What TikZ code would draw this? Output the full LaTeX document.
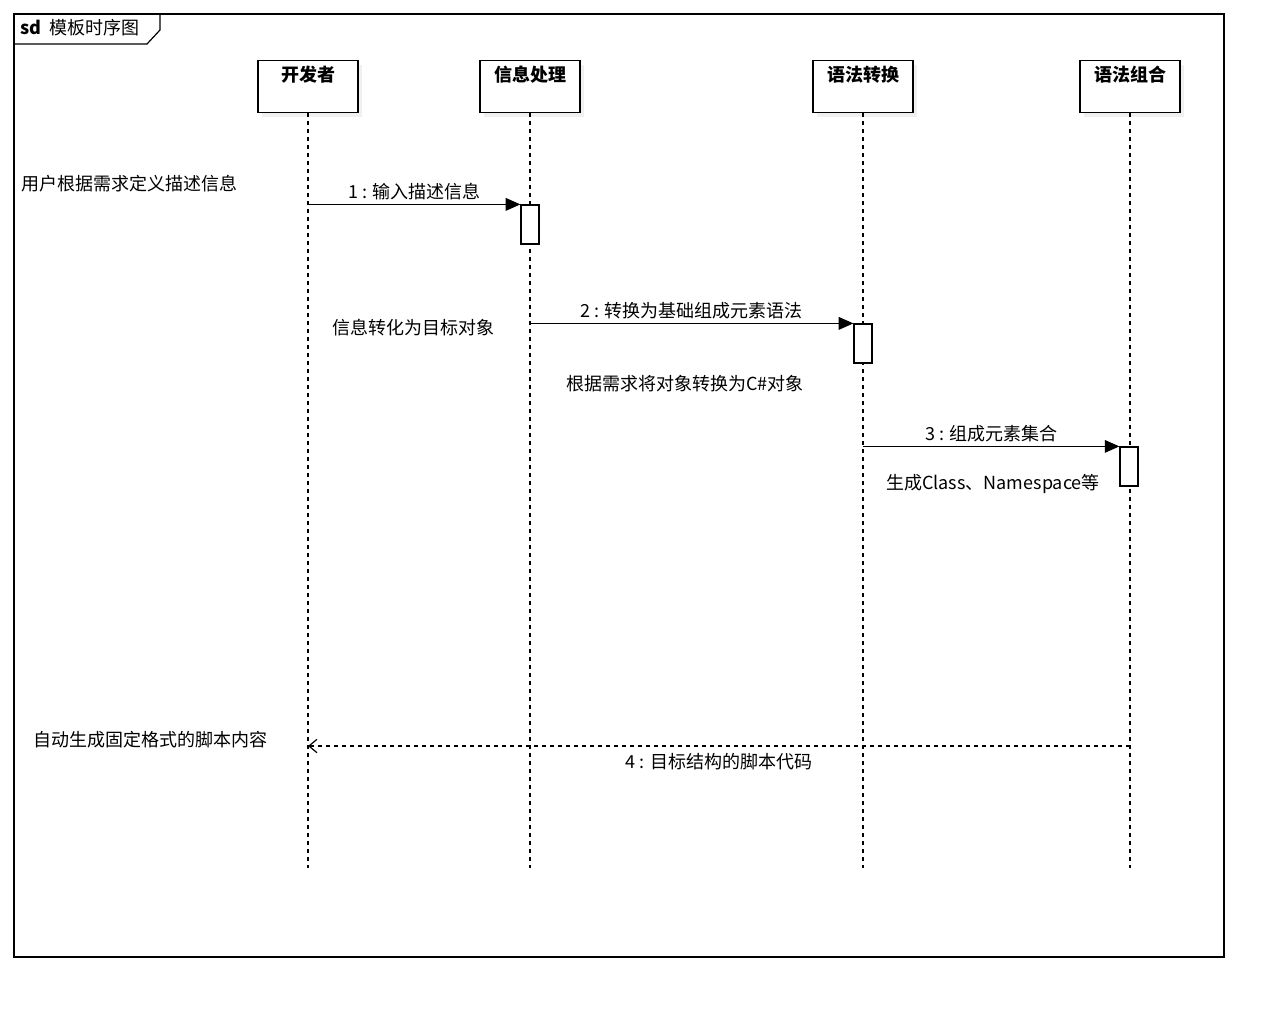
\documentclass[tikz,border=0pt]{standalone}
\usepackage{fontspec}
\setmainfont{Noto Sans CJK SC}
\usetikzlibrary{arrows.meta,positioning,calc,shadows}

\begin{document}
\begin{tikzpicture}[
  x=0.75pt,y=-0.75pt,
  font=\fontsize{13.5}{16}\selectfont,
  head/.style={draw,fill=white,line width=0.9pt,anchor=north,minimum width=75pt,
               text height=14pt,text depth=22pt,inner ysep=1.5pt,font=\fontsize{13.5}{16}\selectfont\bfseries,
               drop shadow={shadow xshift=3pt,shadow yshift=-3pt,opacity=0.12}},
  act/.style={draw,fill=white,line width=0.9pt,minimum width=13.5pt,minimum height=29.25pt,inner sep=0pt},
  life/.style={line width=0.9pt,dash pattern=on 3pt off 3pt},
  msg/.style={-{Triangle[length=11pt,width=9.5pt]},line width=0.9pt},
  ret/.style={-{Straight Barb[length=6pt,width=10pt]},line width=0.9pt,dash pattern=on 3pt off 3pt},
  lbl/.style={inner sep=3pt},
  note/.style={inner sep=0pt},
]
  \useasboundingbox (0,0) rectangle (1280,1013);

  % frame
  \draw[line width=0.9pt] (14,14) rectangle (1224,957);
  \draw[line width=0.9pt] (14,44) -- (147,44) -- (160,30) -- (160,14);
  \node[anchor=west,inner sep=0pt] (tag) at (20,28) {\textbf{sd}\ \ 模板时序图};

  % lifelines
  \node[head] (dev)  at (308,60)  {开发者};
  \node[head] (info) at (530,60)  {信息处理};
  \node[head] (conv) at (863,60)  {语法转换};
  \node[head] (comb) at (1130,60) {语法组合};

  \coordinate (devEnd)  at (308,868);
  \coordinate (infoEnd) at (530,868);
  \coordinate (convEnd) at (863,868);
  \coordinate (combEnd) at (1130,868);

  \draw[life] (dev)  -- (devEnd);
  \draw[life] (info) -- (infoEnd);
  \draw[life] (conv) -- (convEnd);
  \draw[life] (comb) -- (combEnd);

  % activations
  \node[act] (act1) at (530,224.5)  {};
  \node[act] (act2) at (863,343.5)  {};
  \node[act] (act3) at (1129,466.5) {};

  % messages
  \draw[msg] (act1.north west -| dev) --
        node[lbl,above] {1 : 输入描述信息} (act1.north west);
  \draw[msg] (act2.north west -| info) --
        node[lbl,above] {2 : 转换为基础组成元素语法} (act2.north west);
  \draw[msg] (act3.north west -| conv) --
        node[lbl,above] {3 : 组成元素集合} (act3.north west);

  \coordinate (back) at (0,746);
  \draw[ret] (back -| comb) --
        node[lbl,below=2pt] {4 : 目标结构的脚本代码} (back -| dev);

  % notes
  \node[note,anchor=west] (n1) at (21,184) {用户根据需求定义描述信息};
  \node[note] (n2) at (413,328) {信息转化为目标对象};
  \node[note] (n3) at (685,384) {根据需求将对象转换为C\#对象};
  \node[note] (n4) at (993,484) {生成Class、Namespace等};
  \node[note] (n5) at (150,740) {自动生成固定格式的脚本内容};
\end{tikzpicture}
\end{document}
